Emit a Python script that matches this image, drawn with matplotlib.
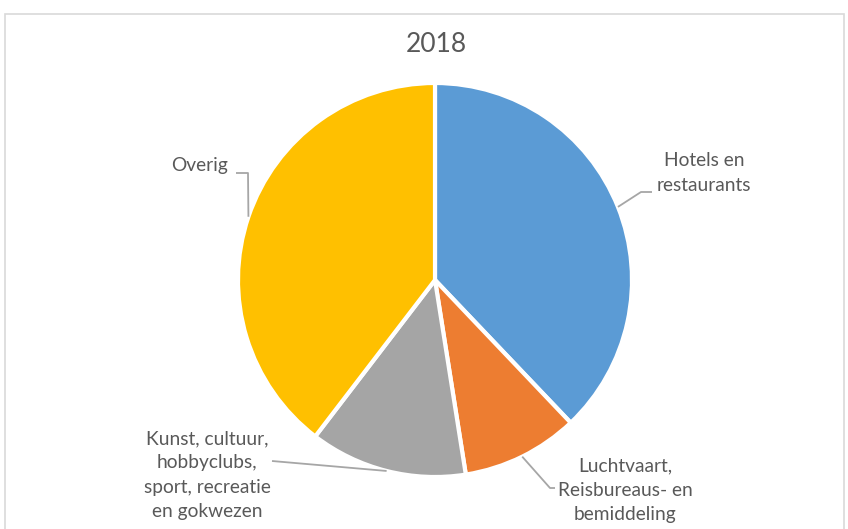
import numpy as np
import matplotlib
matplotlib.use("Agg")
import matplotlib.pyplot as plt
from matplotlib.patches import Rectangle

# data
labels = ["Hotels en\nrestaurants",
          "Luchtvaart,\nReisbureaus- en\nbemiddeling",
          "Kunst, cultuur,\nhobbyclubs,\nsport, recreatie\nen gokwezen",
          "Overig"]
shares = [37.9, 9.6, 12.9, 39.6]
colors = ["#5B9BD5", "#ED7D31", "#A5A5A5", "#FFC000"]
title = "2018"

# label placement (pixel coords, y measured from top) and leader elbows
label_pos = [(704, 173), (625, 490), (207, 475), (200, 166)]
elbows = [[(641, 192), (652, 192)],
          [(550, 488), (555, 488)],
          [(272, 461)],
          [(248, 173), (236, 173)]]

W, H = 848, 529
fig = plt.figure(figsize=(W / 100, H / 100), dpi=100)
ax = fig.add_axes([0, 0, 1, 1])

# thin grey frame like the office chart area
ax.add_patch(Rectangle((5, -5), W - 9, H - 9, fill=False, ec="#D9D9D9", lw=1.2))

cx, cy, r = 435, H - 280, 197
wedges, _ = ax.pie(shares, colors=colors, startangle=90, counterclock=False,
                   center=(cx, cy), radius=r, frame=True,
                   wedgeprops=dict(edgecolor="white", linewidth=3))
ax.set_xlim(0, W)
ax.set_ylim(0, H)
ax.set_aspect("equal")
ax.axis("off")

font = ["Lato", "DejaVu Sans"]
txt_color = "#595959"
line_color = "#A6A6A6"

for w, lab, (tx, ty), elb in zip(wedges, labels, label_pos, elbows):
    ang = np.deg2rad((w.theta1 + w.theta2) / 2)
    sx, sy = cx + r * np.cos(ang), cy + r * np.sin(ang)
    xs = [sx] + [p[0] for p in elb]
    ys = [sy] + [H - p[1] for p in elb]
    ax.plot(xs, ys, color=line_color, lw=1.3, solid_capstyle="butt")
    ax.text(tx, H - ty, lab, ha="center", va="center", fontsize=13.8,
            family=font, color=txt_color, linespacing=1.52)

ax.text(436, H - 45, title, ha="center", va="center", fontsize=19,
        family=font, color=txt_color)

fig.savefig("out.png", dpi=100)
